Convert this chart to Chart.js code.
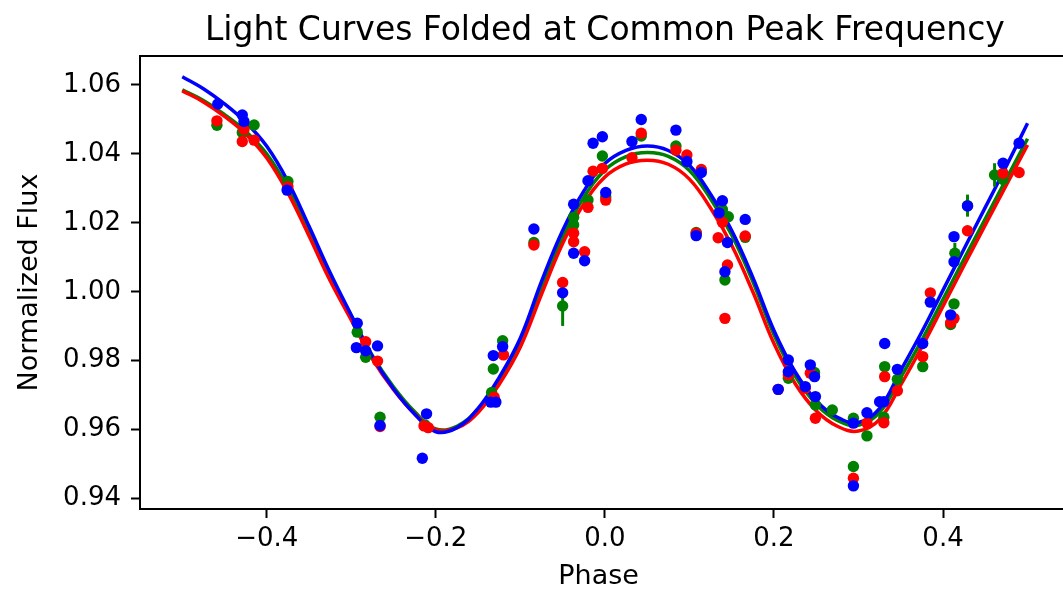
<!DOCTYPE html>
<html>
<head>
<meta charset="utf-8">
<script src="https://cdn.jsdelivr.net/npm/chart.js"></script>
<style>
  html, body { margin: 0; padding: 0; background: #fff; }
  canvas { display: block; }
</style>
</head>
<body>
<canvas id="lcChart" width="1063" height="593"></canvas>
<script>
// folded light curve points, one pair of arrays per band
var phaseRed = [-0.459, -0.429, -0.427, -0.415, -0.375, -0.283, -0.269, -0.266, -0.214, -0.209,
  -0.131, -0.120, -0.084, -0.050, -0.037, -0.037, -0.024, -0.020, -0.014, -0.003,
  0.001, 0.032, 0.043, 0.084, 0.097, 0.108, 0.114, 0.134, 0.139, 0.142,
  0.145, 0.166, 0.205, 0.217, 0.237, 0.243, 0.249, 0.294, 0.310, 0.330,
  0.331, 0.346, 0.376, 0.385, 0.409, 0.413, 0.429, 0.471, 0.490]
var fluxRed = [1.0496, 1.0436, 1.0471, 1.0440, 1.0305, 0.9855, 0.9799, 0.9609, 0.9611, 0.9606,
  0.9694, 0.9817, 1.0136, 1.0027, 1.0170, 1.0145, 1.0116, 1.0245, 1.0350, 1.0358,
  1.0266, 1.0389, 1.0460, 1.0411, 1.0397, 1.0170, 1.0355, 1.0157, 1.0202, 0.9923,
  1.0078, 1.0162, 0.9717, 0.9759, 0.9720, 0.9764, 0.9633, 0.9459, 0.9619, 0.9620,
  0.9754, 0.9713, 0.9812, 0.9997, 0.9910, 0.9923, 1.0177, 1.0344, 1.0346]

var phaseGreen = [-0.459, -0.429, -0.415, -0.375, -0.293, -0.283, -0.266, -0.213, -0.134, -0.132,
  -0.121, -0.084, -0.050, -0.037, -0.037, -0.020, -0.003, 0.001, 0.043, 0.084,
  0.108, 0.139, 0.142, 0.146, 0.166, 0.217, 0.248, 0.249, 0.269, 0.294,
  0.294, 0.310, 0.330, 0.331, 0.346, 0.376, 0.409, 0.413, 0.414, 0.429,
  0.461, 0.471]
var fluxGreen = [1.0483, 1.0462, 1.0484, 1.0320, 0.9883, 0.9810, 0.9636, 0.9614, 0.9708, 0.9776,
  0.9858, 1.0143, 0.9959, 1.0216, 1.0194, 1.0266, 1.0394, 1.0275, 1.0452, 1.0423,
  1.0172, 1.0239, 1.0034, 1.0218, 1.0158, 0.9749, 0.9766, 0.9672, 0.9657, 0.9633,
  0.9493, 0.9582, 0.9636, 0.9783, 0.9746, 0.9783, 0.9905, 0.9965, 1.0112, 1.0250,
  1.0339, 1.0326]
var errGreen = [0, 0, 0, 0, 0, 0, 0, 0, 0, 0,
  0, 0, 0.0058, 0, 0, 0, 0, 0, 0, 0,
  0, 0, 0, 0, 0, 0, 0, 0, 0, 0,
  0, 0, 0, 0, 0, 0, 0, 0, 0.0030, 0.0032,
  0.0034, 0]

var phaseBlue = [-0.458, -0.429, -0.427, -0.376, -0.294, -0.293, -0.283, -0.269, -0.266, -0.216,
  -0.211, -0.135, -0.132, -0.129, -0.121, -0.084, -0.050, -0.037, -0.037, -0.024,
  -0.020, -0.014, -0.003, 0.001, 0.032, 0.043, 0.084, 0.097, 0.108, 0.114,
  0.135, 0.139, 0.142, 0.145, 0.166, 0.205, 0.217, 0.217, 0.237, 0.243,
  0.248, 0.249, 0.294, 0.294, 0.310, 0.325, 0.330, 0.331, 0.346, 0.376,
  0.385, 0.409, 0.413, 0.413, 0.429, 0.471, 0.490]
var fluxBlue = [1.0545, 1.0513, 1.0494, 1.0295, 0.9838, 0.9909, 0.9829, 0.9843, 0.9612, 0.9517,
  0.9646, 0.9680, 0.9815, 0.9680, 0.9841, 1.0182, 0.9997, 1.0254, 1.0112, 1.0090,
  1.0322, 1.0431, 1.0450, 1.0288, 1.0436, 1.0500, 1.0469, 1.0378, 1.0163, 1.0346,
  1.0229, 1.0264, 1.0058, 1.0143, 1.0210, 0.9717, 0.9802, 0.9768, 0.9725, 0.9788,
  0.9754, 0.9696, 0.9619, 0.9437, 0.9649, 0.9681, 0.9681, 0.9850, 0.9775, 0.9850,
  0.9970, 0.9933, 1.0160, 1.0087, 1.0249, 1.0373, 1.0431]

// fitted model curves
var modelPhase = [-0.500, -0.475, -0.450, -0.425, -0.400, -0.375, -0.350, -0.325, -0.300, -0.275,
  -0.250, -0.225, -0.200, -0.175, -0.150, -0.125, -0.100, -0.075, -0.050, -0.025,
  0.000, 0.025, 0.050, 0.075, 0.100, 0.125, 0.150, 0.175, 0.200, 0.225,
  0.250, 0.275, 0.300, 0.325, 0.350, 0.375, 0.400, 0.425, 0.450, 0.475, 0.500]
var modelBlue = [1.0624, 1.0589, 1.0545, 1.0492, 1.0422, 1.0320, 1.0190, 1.0055, 0.9932, 0.9812,
  0.9718, 0.9645, 0.9594, 0.9606, 0.9662, 0.9752, 0.9866, 1.0030, 1.0178, 1.0292,
  1.0372, 1.0410, 1.0423, 1.0410, 1.0367, 1.0283, 1.0178, 1.0042, 0.9888, 0.9768,
  0.9684, 0.9636, 0.9621, 0.9662, 0.9772, 0.9884, 1.0005, 1.0125, 1.0245, 1.0365, 1.0489]
var modelGreen = [1.0586, 1.0555, 1.0514, 1.0466, 1.0400, 1.0302, 1.0177, 1.0047, 0.9930, 0.9815,
  0.9724, 0.9652, 0.9602, 0.9610, 0.9660, 0.9745, 0.9855, 1.0012, 1.0160, 1.0274,
  1.0353, 1.0392, 1.0404, 1.0393, 1.0352, 1.0270, 1.0165, 1.0030, 0.9876, 0.9756,
  0.9674, 0.9627, 0.9613, 0.9650, 0.9752, 0.9860, 0.9978, 1.0096, 1.0212, 1.0328, 1.0444]
var modelRed = [1.0583, 1.0551, 1.0509, 1.0458, 1.0388, 1.0287, 1.0162, 1.0032, 0.9918, 0.9805,
  0.9716, 0.9646, 0.9600, 0.9605, 0.9650, 0.9732, 0.9840, 0.9993, 1.0140, 1.0255,
  1.0333, 1.0371, 1.0382, 1.0370, 1.0327, 1.0243, 1.0135, 1.0000, 0.9850, 0.9734,
  0.9655, 0.9610, 0.9596, 0.9630, 0.9730, 0.9840, 0.9958, 1.0077, 1.0194, 1.0310, 1.0426]

var xTicks = [-0.4, -0.2, 0.0, 0.2, 0.4]
var yTicks = [0.94, 0.96, 0.98, 1.00, 1.02, 1.04, 1.06]

var FONT = 'DejaVu Sans'

function pts(xs, ys) {
  return xs.map(function(x, i) { return {x: x, y: ys[i]} })
}
function minus(s) {
  return s.replace('-', '\u2212')
}

// green error bars, drawn just under the green dots
var errorBars = {
  id: 'errorBars',
  beforeDatasetDraw: function(chart, args) {
    var ds = chart.data.datasets[args.index]
    if (!ds.errors) return
    var ctx = chart.ctx, xs = chart.scales.x, ys = chart.scales.y
    ctx.save()
    ctx.strokeStyle = ds.backgroundColor
    ctx.lineWidth = 3
    ds.data.forEach(function(p, i) {
      var e = ds.errors[i]
      if (!e) return
      var px = xs.getPixelForValue(p.x)
      ctx.beginPath()
      ctx.moveTo(px, ys.getPixelForValue(p.y - e))
      ctx.lineTo(px, ys.getPixelForValue(p.y + e))
      ctx.stroke()
    })
    ctx.restore()
  }
}

// top spine, bottom spine run to the edge (axes are cut off on the right), title
var frame = {
  id: 'frame',
  afterDatasetsDraw: function(chart) {
    var ctx = chart.ctx, a = chart.chartArea
    ctx.save()
    ctx.strokeStyle = '#000'
    ctx.lineWidth = 2
    ctx.beginPath()
    ctx.moveTo(a.left - 1, a.top)
    ctx.lineTo(chart.width, a.top)
    ctx.moveTo(a.right - 1, a.bottom)
    ctx.lineTo(chart.width, a.bottom)
    ctx.stroke()
    ctx.restore()
  },
  afterDraw: function(chart) {
    var ctx = chart.ctx
    ctx.save()
    ctx.fillStyle = '#000'
    ctx.font = '33px "' + FONT + '"'
    ctx.textAlign = 'center'
    ctx.textBaseline = 'middle'
    ctx.fillText('Light Curves Folded at Common Peak Frequency', chart.scales.x.getPixelForValue(0), 31)
    ctx.restore()
  }
}

var lineStyle = {showLine: true, pointRadius: 0, borderWidth: 3.5, tension: 0.4, fill: false}
var dotStyle = {showLine: false, pointRadius: 5.7, pointBorderWidth: 0, pointHoverRadius: 5.7}

var ctx = document.getElementById('lcChart').getContext('2d')
var lcChart = new Chart(ctx, {
  type: 'scatter',
  data: {
    datasets: [
      Object.assign({label: 'Model green', data: pts(modelPhase, modelGreen), borderColor: '#008000', order: 6}, lineStyle),
      Object.assign({label: 'Model red', data: pts(modelPhase, modelRed), borderColor: '#ff0000', order: 5}, lineStyle),
      Object.assign({label: 'Model blue', data: pts(modelPhase, modelBlue), borderColor: '#0000ff', order: 4}, lineStyle),
      Object.assign({label: 'green', data: pts(phaseGreen, fluxGreen), errors: errGreen, backgroundColor: '#008000', borderColor: '#008000', order: 3}, dotStyle),
      Object.assign({label: 'red', data: pts(phaseRed, fluxRed), backgroundColor: '#ff0000', borderColor: '#ff0000', order: 2}, dotStyle),
      Object.assign({label: 'blue', data: pts(phaseBlue, fluxBlue), backgroundColor: '#0000ff', borderColor: '#0000ff', order: 1}, dotStyle)
    ]
  },
  options: {
    responsive: false,
    animation: false,
    devicePixelRatio: 1,
    layout: {padding: {top: 56, left: 0, right: 0, bottom: 0}},
    plugins: {
      legend: {display: false},
      tooltip: {enabled: false},
      title: {display: false}
    },
    scales: {
      x: {
        type: 'linear',
        min: -0.55,
        max: 0.5352,
        afterFit: function(s) { s.height = 84 },
        afterBuildTicks: function(s) { s.ticks = xTicks.map(function(v) { return {value: v} }) },
        border: {display: true, color: '#000', width: 2},
        grid: {drawOnChartArea: false, drawTicks: true, tickLength: 9, tickWidth: 2, tickColor: '#000'},
        ticks: {
          color: '#000',
          padding: 6,
          font: {family: FONT, size: 26},
          callback: function(v) { return minus(v.toFixed(1)) }
        },
        title: {display: true, text: 'Phase', color: '#000', font: {family: FONT, size: 27}, padding: {top: 0, bottom: 0}}
      },
      y: {
        type: 'linear',
        min: 0.93699,
        max: 1.06841,
        afterFit: function(s) { s.width = 140 },
        afterBuildTicks: function(s) { s.ticks = yTicks.map(function(v) { return {value: v} }) },
        border: {display: true, color: '#000', width: 2},
        grid: {drawOnChartArea: false, drawTicks: true, tickLength: 9, tickWidth: 2, tickColor: '#000'},
        ticks: {
          color: '#000',
          padding: 10,
          font: {family: FONT, size: 26},
          callback: function(v) { return v.toFixed(2) }
        },
        title: {display: true, text: 'Normalized Flux', color: '#000', font: {family: FONT, size: 27}, padding: {top: 14, bottom: 0}}
      }
    }
  },
  plugins: [errorBars, frame]
})
</script>
</body>
</html>
